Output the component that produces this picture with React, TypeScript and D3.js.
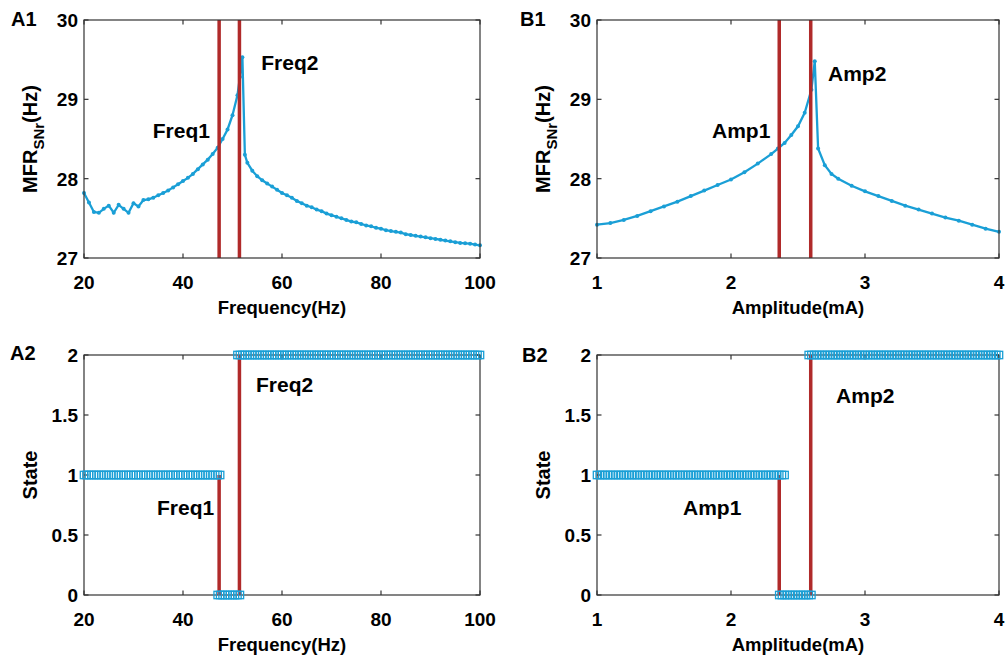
import React from 'react';
import * as d3 from 'd3';

// ---------- data ----------
const freqA = [20, 21, 22, 23, 24, 25, 26, 27, 28, 29, 30, 31, 32, 33, 34, 35, 36, 37, 38, 39, 40, 41, 42, 43, 44, 45, 46, 47, 48, 49, 50, 51, 51.5, 52, 52.5, 53, 54, 55, 56, 57, 58, 59, 60, 61, 62, 63, 64, 65, 66, 67, 68, 69, 70, 71, 72, 73, 74, 75, 76, 77, 78, 79, 80, 81, 82, 83, 84, 85, 86, 87, 88, 89, 90, 91, 92, 93, 94, 95, 96, 97, 98, 99, 100];
const mfrA = [27.82, 27.7, 27.58, 27.57, 27.62, 27.66, 27.57, 27.67, 27.62, 27.57, 27.69, 27.65, 27.73, 27.74, 27.76, 27.79, 27.82, 27.85, 27.89, 27.93, 27.97, 28.01, 28.06, 28.12, 28.18, 28.24, 28.31, 28.39, 28.5, 28.62, 28.8, 29.05, 29.28, 29.53, 28.3, 28.2, 28.1, 28.03, 27.98, 27.94, 27.9, 27.86, 27.82, 27.79, 27.76, 27.72, 27.69, 27.66, 27.64, 27.61, 27.59, 27.56, 27.54, 27.52, 27.5, 27.48, 27.46, 27.45, 27.43, 27.41, 27.4, 27.38, 27.37, 27.35, 27.34, 27.33, 27.32, 27.3, 27.29, 27.28, 27.27, 27.26, 27.25, 27.24, 27.23, 27.22, 27.21, 27.2, 27.19, 27.185, 27.18, 27.17, 27.16];

const ampB = [1.0, 1.1, 1.2, 1.3, 1.4, 1.5, 1.6, 1.7, 1.8, 1.9, 2.0, 2.1, 2.2, 2.3, 2.35, 2.4, 2.45, 2.5, 2.55, 2.6, 2.625, 2.65, 2.7, 2.75, 2.8, 2.9, 3.0, 3.1, 3.2, 3.3, 3.4, 3.5, 3.6, 3.7, 3.8, 3.9, 4.0];
const mfrB = [27.42, 27.44, 27.48, 27.53, 27.59, 27.65, 27.71, 27.78, 27.85, 27.92, 27.99, 28.08, 28.19, 28.31, 28.38, 28.45, 28.55, 28.66, 28.83, 29.12, 29.48, 28.38, 28.17, 28.06, 28.0, 27.91, 27.84, 27.78, 27.72, 27.66, 27.61, 27.56, 27.51, 27.47, 27.42, 27.37, 27.33];

const freqThresholds = [47.3, 51.4];
const ampThresholds = [2.36, 2.595];

const stateRunsA = [
  { state: 1, from: 20, to: 47.5 },
  { state: 0, from: 47, to: 51.5 },
  { state: 2, from: 51, to: 100 },
];
const stepA = 0.5;
const stateRunsB = [
  { state: 1, from: 1, to: 2.4 },
  { state: 0, from: 2.36, to: 2.6 },
  { state: 2, from: 2.58, to: 4 },
];
const stepB = 0.02;

const xTicksA = [20, 40, 60, 80, 100];
const xTicksB = [1, 2, 3, 4];
const yTicksMFR = [27, 28, 29, 30];
const yTicksState = [0, 0.5, 1, 1.5, 2];

// ---------- style ----------
const BLUE = '#1a9fd6';
const RED = '#b02a2a';
const AXIS = '#333333';
const FONT = '"Liberation Sans", Arial, sans-serif';

const LEFT_A = 84, RIGHT_A = 480, LEFT_B = 597, RIGHT_B = 999;
const TOP1 = 20, BOT1 = 258, TOP2 = 355, BOT2 = 595;

function expandRuns(runs: { state: number; from: number; to: number }[], step: number) {
  const pts: { x: number; s: number }[] = [];
  runs.forEach((r) => {
    const n = Math.round((r.to - r.from) / step);
    for (let i = 0; i <= n; i++) pts.push({ x: r.from + i * step, s: r.state });
  });
  return pts;
}

type AxesProps = {
  x: d3.ScaleLinear<number, number>;
  y: d3.ScaleLinear<number, number>;
  xTicks: number[];
  yTicks: number[];
  xLabel: string;
  yLabel: React.ReactNode;
  yLabelX: number;
};

function Axes({ x, y, xTicks, yTicks, xLabel, yLabel, yLabelX }: AxesProps) {
  const [x0, x1] = x.range();
  const [y0, y1] = y.range(); // y0 bottom, y1 top
  const tl = 4.5;
  return (
    <g>
      <rect x={x0} y={y1} width={x1 - x0} height={y0 - y1} fill="none" stroke={AXIS} strokeWidth={1.2} />
      {xTicks.map((t) => (
        <g key={'x' + t}>
          <line x1={x(t)} x2={x(t)} y1={y0} y2={y0 - tl} stroke={AXIS} strokeWidth={1.2} />
          <line x1={x(t)} x2={x(t)} y1={y1} y2={y1 + tl} stroke={AXIS} strokeWidth={1.2} />
          <text x={x(t)} y={y0 + 31} textAnchor="middle" fontSize={19} fontWeight="bold" fontFamily={FONT}>
            {String(t)}
          </text>
        </g>
      ))}
      {yTicks.map((t) => (
        <g key={'y' + t}>
          <line x1={x0} x2={x0 + tl} y1={y(t)} y2={y(t)} stroke={AXIS} strokeWidth={1.2} />
          <line x1={x1} x2={x1 - tl} y1={y(t)} y2={y(t)} stroke={AXIS} strokeWidth={1.2} />
          <text x={x0 - 6} y={y(t) + 7} textAnchor="end" fontSize={19} fontWeight="bold" fontFamily={FONT}>
            {String(t)}
          </text>
        </g>
      ))}
      <text x={(x0 + x1) / 2} y={y0 + 56} textAnchor="middle" fontSize={18.5} fontWeight="bold" fontFamily={FONT}>
        {xLabel}
      </text>
      <text
        transform={`translate(${yLabelX},${(y0 + y1) / 2}) rotate(-90)`}
        textAnchor="middle"
        fontSize={20}
        fontWeight="bold"
        fontFamily={FONT}
      >
        {yLabel}
      </text>
    </g>
  );
}

const mfrLabel = (
  <>
    <tspan>MFR</tspan>
    <tspan fontSize={15} dy={7}>SNr</tspan>
    <tspan fontSize={20} dy={-7}>(Hz)</tspan>
  </>
);

function CurvePanel({ xs, ys, left, right, xTicks, xLabel, thresholds, labels, labelX }: any) {
  const x = d3.scaleLinear().domain([xTicks[0], xTicks[xTicks.length - 1]]).range([left, right]);
  const y = d3.scaleLinear().domain([27, 30]).range([BOT1, TOP1]);
  const pts = xs.map((v: number, i: number) => [v, ys[i]] as [number, number]);
  const line = d3.line<[number, number]>().x((d) => x(d[0])).y((d) => y(d[1]));
  return (
    <g>
      <path d={line(pts) || ''} fill="none" stroke={BLUE} strokeWidth={2.3} />
      {pts.map((d: [number, number], i: number) => (
        <circle key={i} cx={x(d[0])} cy={y(d[1])} r={2} fill={BLUE} />
      ))}
      {thresholds.map((t: number, i: number) => (
        <line key={i} x1={x(t)} x2={x(t)} y1={BOT1} y2={TOP1} stroke={RED} strokeWidth={3.5} />
      ))}
      {labels.map((l: any, i: number) => (
        <text key={i} x={x(l.x)} y={y(l.y)} fontSize={21} fontWeight="bold" fontFamily={FONT}>
          {l.text}
        </text>
      ))}
      <Axes x={x} y={y} xTicks={xTicks} yTicks={yTicksMFR} xLabel={xLabel} yLabel={mfrLabel} yLabelX={labelX} />
    </g>
  );
}

function StatePanel({ runs, step, left, right, xTicks, xLabel, thresholds, labels, labelX }: any) {
  const x = d3.scaleLinear().domain([xTicks[0], xTicks[xTicks.length - 1]]).range([left, right]);
  const y = d3.scaleLinear().domain([0, 2]).range([BOT2, TOP2]);
  const pts = expandRuns(runs, step);
  const thrStates = [1, 2];
  const sz = 7.4;
  return (
    <g>
      <Axes x={x} y={y} xTicks={xTicks} yTicks={yTicksState} xLabel={xLabel} yLabel="State" yLabelX={labelX} />
      {thresholds.map((t: number, i: number) => (
        <line key={i} x1={x(t)} x2={x(t)} y1={y(0)} y2={y(thrStates[i])} stroke={RED} strokeWidth={3.5} />
      ))}
      {pts.map((d, i) => (
        <rect
          key={i}
          x={x(d.x) - sz / 2}
          y={y(d.s) - sz / 2}
          width={sz}
          height={sz}
          fill="none"
          stroke={BLUE}
          strokeWidth={1.3}
        />
      ))}
      {labels.map((l: any, i: number) => (
        <text key={i} x={x(l.x)} y={y(l.y)} fontSize={21} fontWeight="bold" fontFamily={FONT}>
          {l.text}
        </text>
      ))}
    </g>
  );
}

export default function App() {
  return (
    <svg
      width={1008}
      height={658}
      style={{ position: 'absolute', left: 0, top: 0, background: '#fff', display: 'block' }}
    >
      <rect width={1008} height={658} fill="#fff" />
      <CurvePanel
        xs={freqA}
        ys={mfrA}
        left={LEFT_A}
        right={RIGHT_A}
        xTicks={xTicksA}
        xLabel="Frequency(Hz)"
        thresholds={freqThresholds}
        labelX={37}
        labels={[
          { text: 'Freq1', x: 33.9, y: 28.51 },
          { text: 'Freq2', x: 55.8, y: 29.37 },
        ]}
      />
      <CurvePanel
        xs={ampB}
        ys={mfrB}
        left={LEFT_B}
        right={RIGHT_B}
        xTicks={xTicksB}
        xLabel="Amplitude(mA)"
        thresholds={ampThresholds}
        labelX={550}
        labels={[
          { text: 'Amp1', x: 1.858, y: 28.51 },
          { text: 'Amp2', x: 2.724, y: 29.23 },
        ]}
      />
      <StatePanel
        runs={stateRunsA}
        step={stepA}
        left={LEFT_A}
        right={RIGHT_A}
        xTicks={xTicksA}
        xLabel="Frequency(Hz)"
        thresholds={freqThresholds}
        labelX={37}
        labels={[
          { text: 'Freq2', x: 54.75, y: 1.69 },
          { text: 'Freq1', x: 34.75, y: 0.667 },
        ]}
      />
      <StatePanel
        runs={stateRunsB}
        step={stepB}
        left={LEFT_B}
        right={RIGHT_B}
        xTicks={xTicksB}
        xLabel="Amplitude(mA)"
        thresholds={ampThresholds}
        labelX={550}
        labels={[
          { text: 'Amp2', x: 2.784, y: 1.6 },
          { text: 'Amp1', x: 1.642, y: 0.667 },
        ]}
      />
      <text x={11} y={26} fontSize={20} fontWeight="bold" fontFamily={FONT}>A1</text>
      <text x={520} y={26} fontSize={20} fontWeight="bold" fontFamily={FONT}>B1</text>
      <text x={10} y={360} fontSize={20} fontWeight="bold" fontFamily={FONT}>A2</text>
      <text x={522} y={362} fontSize={20} fontWeight="bold" fontFamily={FONT}>B2</text>
    </svg>
  );
}
